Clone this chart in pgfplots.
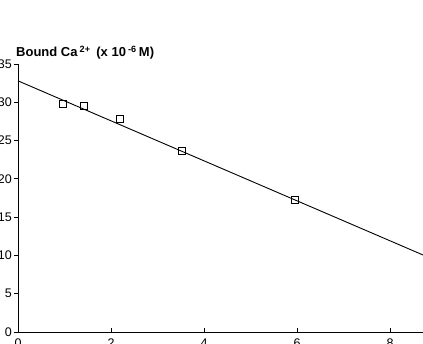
\documentclass[border=0pt]{standalone}
\usepackage{pgfplots}
\pgfplotsset{compat=1.18}
\usepackage{fontspec}
\setmainfont{Liberation Sans}
\begin{document}
\begin{tikzpicture}[x=1pt,y=1pt]
\useasboundingbox (-18,-12) rectangle (405,332);
\clip (-18,-12) rectangle (405,332);
% y axis (outward ticks)
\begin{axis}[
  at={(0,0)}, anchor=south west,
  x=46.5pt, y=7.657pt,
  xmin=0, xmax=9, ymin=0, ymax=35,
  axis lines*=left,
  axis x line=none,
  ytick={0,5,...,35},
  xtick=\empty,
  tick align=outside,
  major tick length=4pt,
  every tick/.style={black, line width=0.8pt},
  axis line style={black, line width=0.9pt},
  /pgf/number format/assume math mode=true,
  yticklabel style={font=\fontsize{12.5}{14}\selectfont, inner sep=0pt, xshift=-2pt},
  clip=false,
]
\node[anchor=base west, inner sep=0pt, font=\fontsize{13}{15}\selectfont\bfseries]
  at (rel axis cs:0,1) [xshift=-2pt, yshift=7pt]
  {Bound Ca\,\textsuperscript{2+}\, (x 10\,\textsuperscript{-6}\,M)};
\end{axis}
% x axis (inward ticks) and data
\begin{axis}[
  at={(0,0)}, anchor=south west,
  x=46.5pt, y=7.657pt,
  xmin=0, xmax=9, ymin=0, ymax=35,
  axis lines*=left,
  axis y line=none,
  xtick={0,2,4,6,8},
  ytick=\empty,
  tick align=inside,
  major tick length=4pt,
  every tick/.style={black, line width=0.8pt},
  axis line style={black, line width=0.9pt},
  /pgf/number format/assume math mode=true,
  xticklabel style={font=\fontsize{12.5}{14}\selectfont, inner sep=0pt, yshift=-7pt},
  clip=false,
]
\addplot[black, line width=0.9pt] coordinates {(0,32.8) (9,9.3)};
\addplot[only marks, mark=square, mark size=3.6pt, black, line width=0.8pt] coordinates {
  (0.961,29.78) (1.413,29.51) (2.194,27.78) (3.52,23.64) (5.96,17.28)
};
\end{axis}
\end{tikzpicture}
\end{document}
